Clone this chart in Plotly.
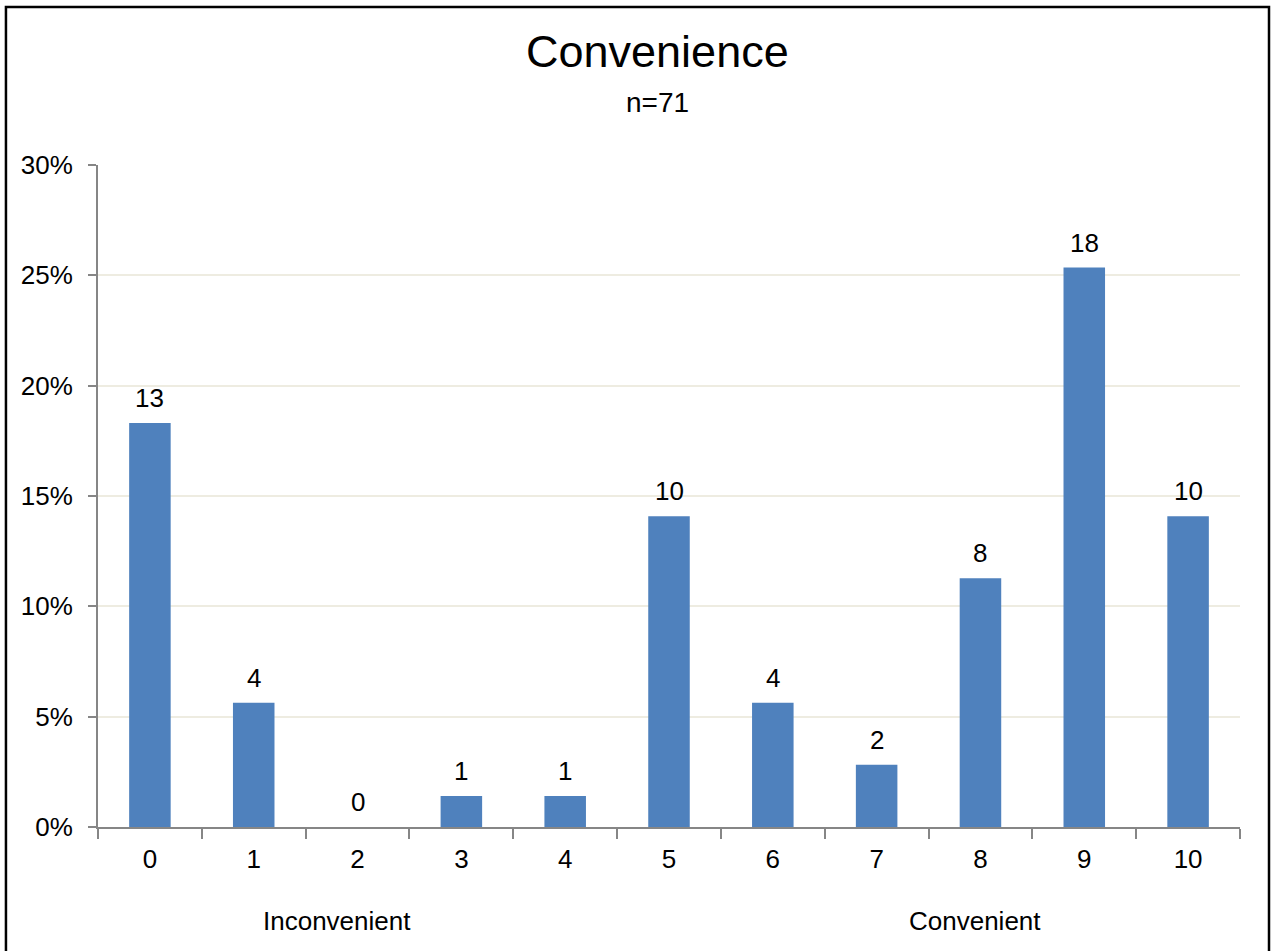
import plotly.graph_objects as go

categories = ["0", "1", "2", "3", "4", "5", "6", "7", "8", "9", "10"]
counts = [13, 4, 0, 1, 1, 10, 4, 2, 8, 18, 10]
n_total = 71
y_ticks = [0, 0.05, 0.10, 0.15, 0.20, 0.25, 0.30]
y_tick_labels = ["0%", "5%", "10%", "15%", "20%", "25%", "30%"]
title_text = "Convenience"
subtitle_text = "n=71"
low_label = "Inconvenient"
high_label = "Convenient"

shares = [c / n_total for c in counts]

FONT = "Liberation Sans Narrow, Arial Narrow, Liberation Sans, Arial, sans-serif"
TXT = 26

fig = go.Figure()
fig.add_trace(go.Bar(
    x=categories,
    y=shares,
    marker=dict(color="#4F81BD", line=dict(width=0)),
    width=0.4,
    hoverinfo="skip",
))

# data labels (counts) above each bar
for cat, share, c in zip(categories, shares, counts):
    fig.add_annotation(x=cat, y=share, xref="x", yref="y", text=str(c),
                       showarrow=False, yanchor="bottom", yshift=8,
                       font=dict(family=FONT, size=TXT, color="black"))

fig.update_layout(
    width=1274,
    height=951,
    margin=dict(l=98, r=34, t=165, b=124),
    paper_bgcolor="white",
    plot_bgcolor="white",
    showlegend=False,
    font=dict(family=FONT, size=TXT, color="black"),
)

fig.update_xaxes(
    type="category",
    tickson="boundaries",
    ticks="outside",
    ticklen=10,
    tickcolor="#868686",
    tickwidth=2,
    showline=True,
    linecolor="#868686",
    linewidth=2,
    showgrid=False,
    tickfont=dict(family=FONT, size=TXT, color="black"),
    ticklabelstandoff=8,
    range=[-0.5, 10.5],
)

fig.update_yaxes(
    range=[0, 0.30],
    tickvals=y_ticks,
    ticktext=y_tick_labels,
    ticks="outside",
    ticklen=8,
    tickcolor="#868686",
    tickwidth=2,
    showline=True,
    linecolor="#868686",
    linewidth=2,
    showgrid=True,
    gridcolor="#EEECE1",
    gridwidth=2,
    zeroline=False,
    tickfont=dict(family=FONT, size=TXT, color="black"),
    ticklabelstandoff=10,
)

fig.add_annotation(text=title_text, xref="paper", yref="paper", x=0.490, y=1.1707,
                   showarrow=False, font=dict(family=FONT, size=45, color="black"),
                   xanchor="center", yanchor="middle")
fig.add_annotation(text=subtitle_text, xref="paper", yref="paper", x=0.490, y=1.0937,
                   showarrow=False, font=dict(family=FONT, size=28, color="black"),
                   xanchor="center", yanchor="middle")
fig.add_annotation(text=low_label, xref="paper", yref="paper", x=0.209, y=-0.1420,
                   showarrow=False, font=dict(family=FONT, size=TXT, color="black"),
                   xanchor="center", yanchor="middle")
fig.add_annotation(text=high_label, xref="paper", yref="paper", x=0.768, y=-0.1420,
                   showarrow=False, font=dict(family=FONT, size=TXT, color="black"),
                   xanchor="center", yanchor="middle")

# outer frame
fig.add_shape(type="rect", xref="paper", yref="paper",
              x0=-0.0806, x1=1.0254, y0=-0.25, y1=1.2387,
              line=dict(color="black", width=2.5), fillcolor="rgba(0,0,0,0)", layer="above")

fig.write_html("out.html",
               config={"displayModeBar": False},
               post_script="document.body.style.margin='0';document.body.style.overflow='hidden';")
